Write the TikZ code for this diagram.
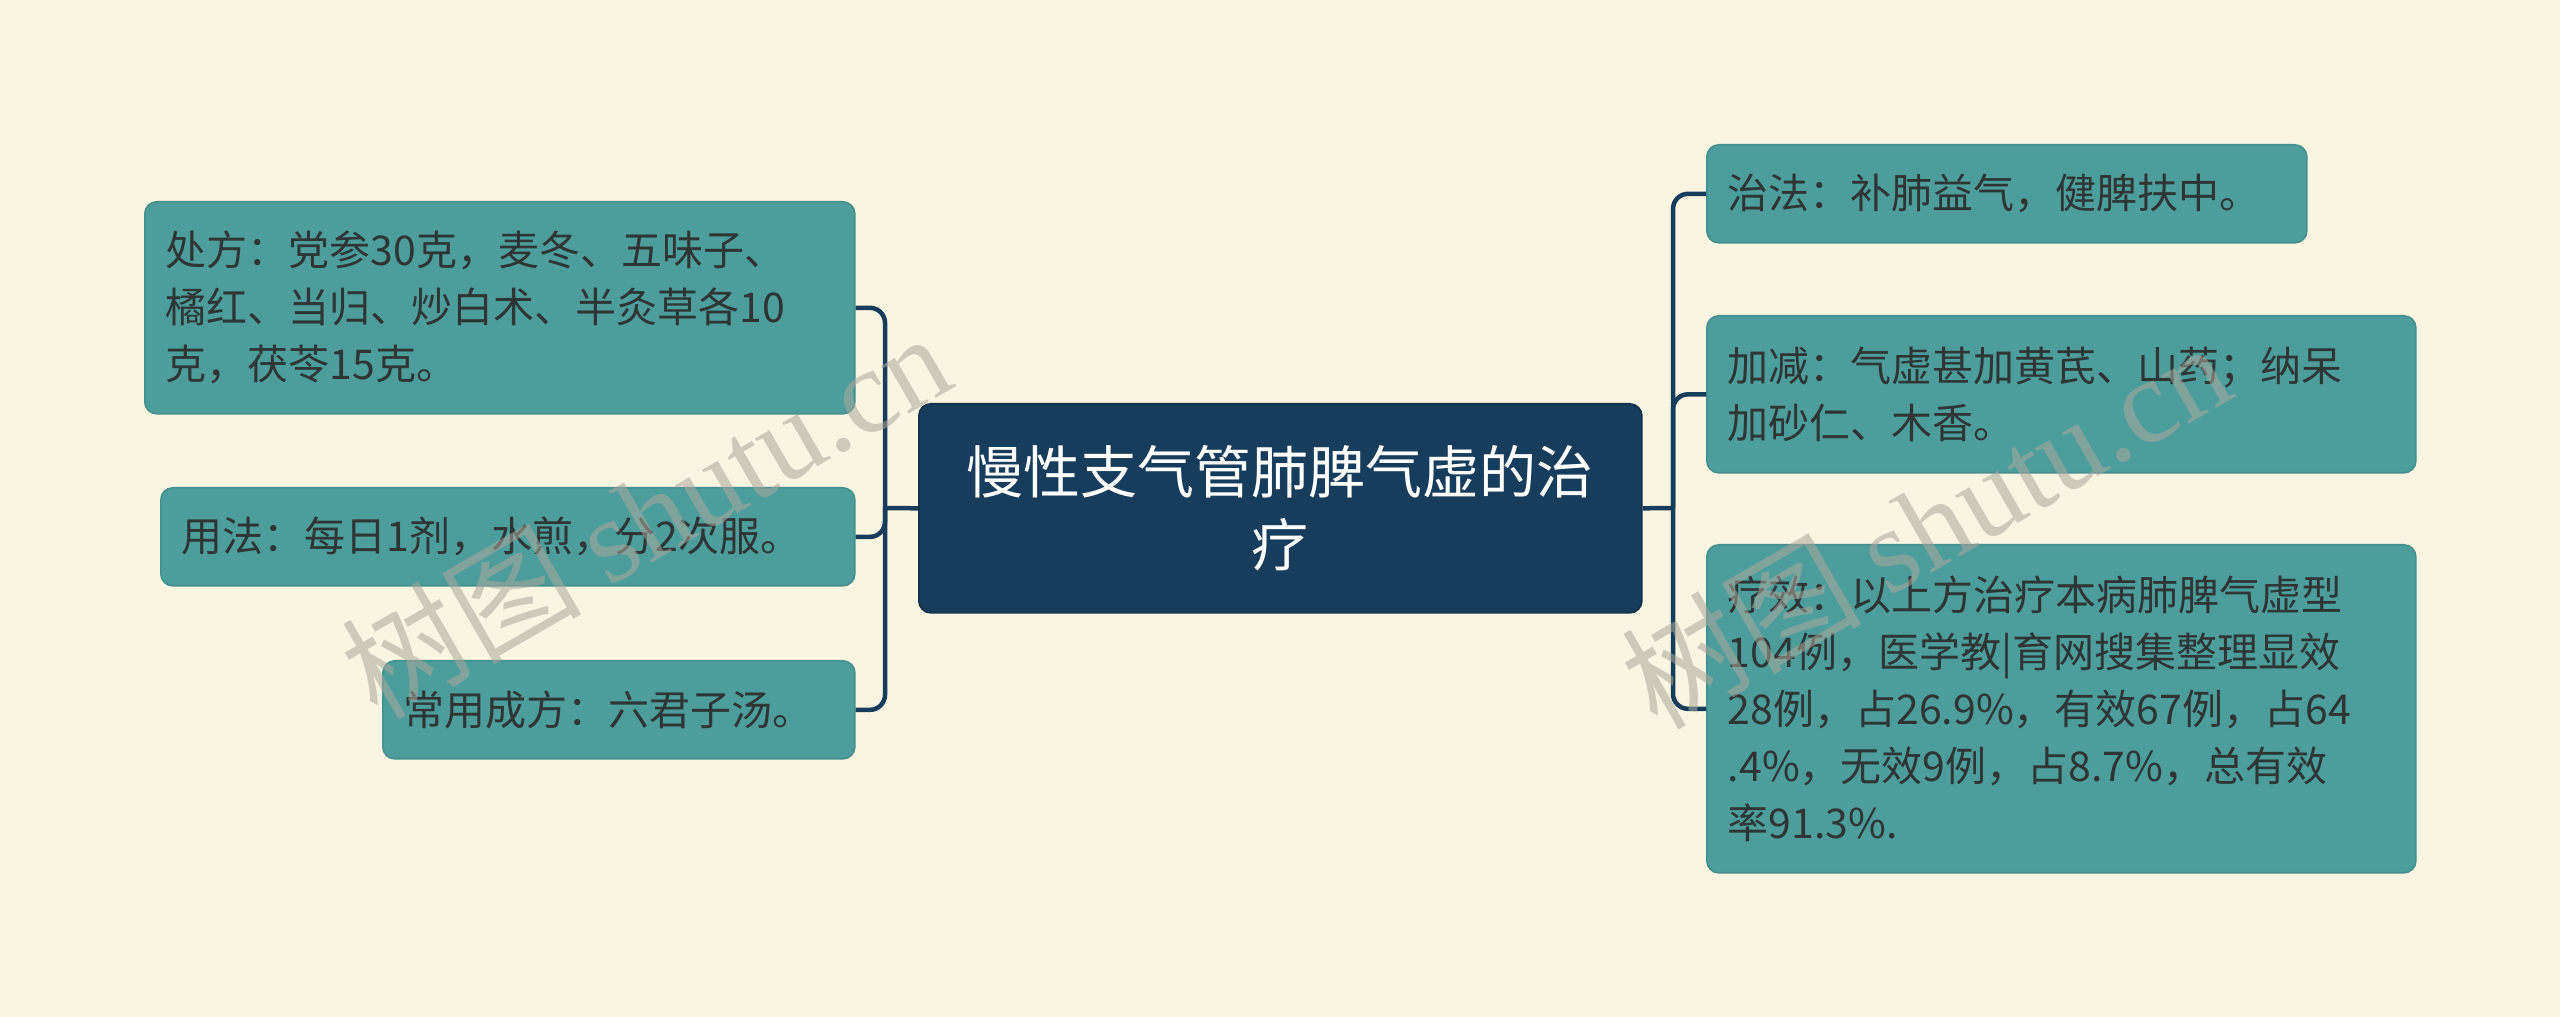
\documentclass[tikz,border=0pt]{standalone}
\usepackage{fontspec}
\setmainfont{Noto Sans CJK SC}
\newfontfamily\cjk{Noto Sans CJK SC}
\newfontfamily\wmfont{Liberation Serif}
\definecolor{bg}{HTML}{FAF5E1}
\definecolor{boxteal}{HTML}{4E9D9D}
\definecolor{boxedge}{HTML}{43908F}
\definecolor{navy}{HTML}{173D5C}
\definecolor{txt}{HTML}{2D3535}
\definecolor{wmgrey}{HTML}{AAA89B}
\tikzset{
  leaf/.style={draw=boxedge, fill=boxteal, rounded corners=3.6pt, line width=0.5pt,
    anchor=north west, align=left, inner xsep=6.3pt, inner ysep=0pt, text=txt,
    font=\fontsize{12.3pt}{17.1pt}\selectfont},
  root/.style={draw=navy!80!black, fill=navy, rounded corners=3.6pt, line width=0.5pt,
    anchor=north west, align=center, inner xsep=12pt, inner ysep=0pt, text=white,
    font=\fontsize{17.1pt}{21.9pt}\selectfont},
  conn/.style={draw=navy, line width=1.35pt, rounded corners=4.5pt},
  wmark/.style={rotate=30, text=wmgrey, opacity=0.55, inner sep=0pt}
}
\begin{document}
\begin{tikzpicture}[x=0.3pt, y=-0.3pt]
\fill[bg] (0,0) rectangle (2560,1017);
\useasboundingbox (0,0) rectangle (2560,1017);

\node[root, text width=192.9pt, minimum height=62.7pt] (c) at (918,403)
  {慢性支气管肺脾气虚的治\\疗};

\node[leaf, text width=200.4pt, minimum height=63.6pt] (l1) at (144,201)
  {处方：党参30克，麦冬、五味子、\\橘红、当归、炒白术、半灸草各10\\克，茯苓15克。};
\node[leaf, text width=195.6pt, minimum height=29.4pt] (l2) at (160,487)
  {用法：每日1剂，水煎，分2次服。};
\node[leaf, text width=129pt, minimum height=29.4pt] (l3) at (382,660)
  {常用成方：六君子汤。};

\node[leaf, text width=167.4pt, minimum height=29.4pt] (r1) at (1706,144)
  {治法：补肺益气，健脾扶中。};
\node[leaf, text width=200.1pt, minimum height=47.1pt] (r2) at (1706,315)
  {加减：气虚甚加黄芪、山药；纳呆\\加砂仁、木香。};
\node[leaf, text width=200.1pt, minimum height=98.4pt] (r3) at (1706,544)
  {疗效：以上方治疗本病肺脾气虚型\\104例，医学教|育网搜集整理显效\\28例，占26.9\%，有效67例，占64\\.4\%，无效9例，占8.7\%，总有效\\率91.3\%.};

\coordinate (lj) at (885,508);
\coordinate (rj) at (1673,508);
\draw[conn] (c.west) -- (lj);
\draw[conn] (lj) |- (l1.east);
\draw[conn] (lj) |- (l2.east);
\draw[conn] (lj) |- (l3.east);
\draw[conn] (c.east) -- (rj);
\draw[conn] (rj) |- (r1.west);
\draw[conn] (rj) |- (r2.west);
\draw[conn] (rj) |- (r3.west);

\node[wmark] (wm1) at (645,514) {\fontsize{36pt}{40pt}\selectfont{\cjk 树图} {\wmfont shutu.cn}};
\node[wmark] (wm2) at (1925,524) {\fontsize{36pt}{40pt}\selectfont{\cjk 树图} {\wmfont shutu.cn}};
\end{tikzpicture}
\end{document}
